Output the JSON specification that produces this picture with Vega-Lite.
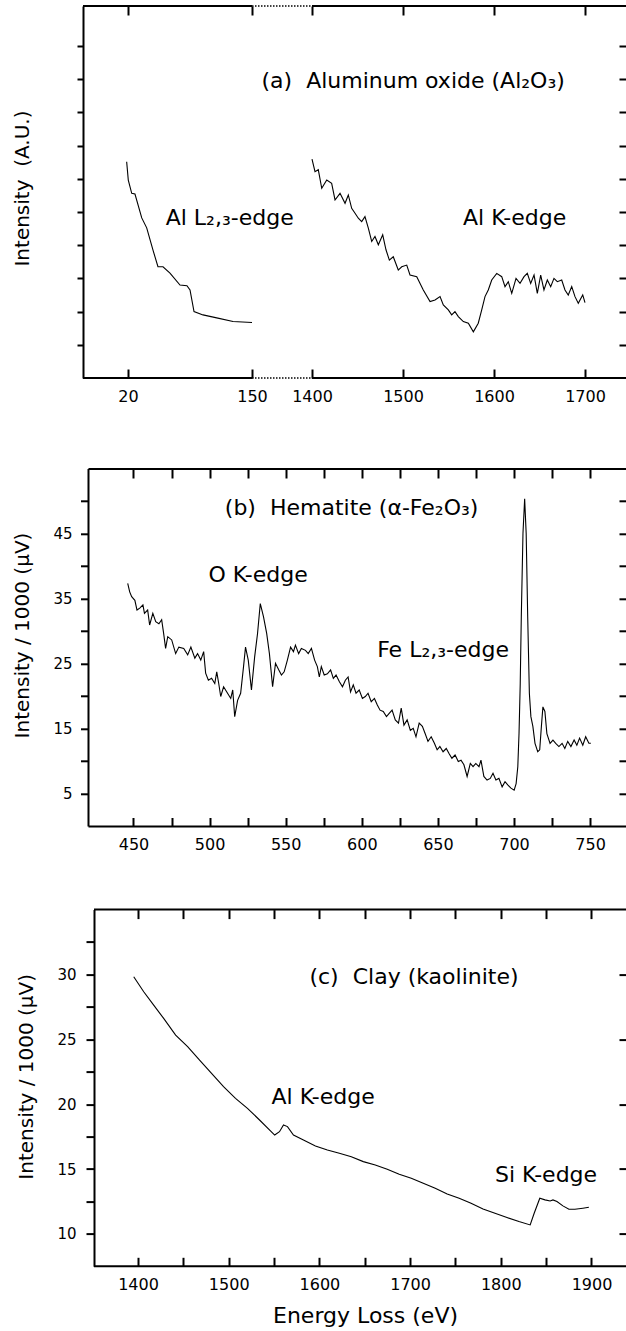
{
  "$schema": "https://vega.github.io/schema/vega-lite/v6.json",
  "background": "white",
  "padding": {"left": 12, "top": 5, "right": 0, "bottom": 0},
  "bounds": "flush",
  "spacing": 82.8,
  "config": {
    "font": "DejaVu Sans",
    "view": {"stroke": null},
    "axis": {
      "grid": false,
      "domainColor": "black",
      "domainWidth": 2,
      "tickColor": "black",
      "tickWidth": 2,
      "labelColor": "black",
      "titleColor": "black",
      "labelFont": "DejaVu Sans",
      "titleFont": "DejaVu Sans",
      "labelFontSize": 16,
      "titleFontSize": 20,
      "titleFontWeight": "normal",
      "labelFlush": false,
      "labelOverlap": false,
      "labelBound": false
    },
    "text": {"font": "DejaVu Sans", "fontSize": 22, "color": "black", "align": "left", "baseline": "middle"}
  },
  "datasets": {
    "aL": [
      {"E": 18.6, "I": 6.51}, {"E": 20.3, "I": 5.96}, {"E": 23.9, "I": 5.56}, {"E": 27.3, "I": 5.54},
      {"E": 34.4, "I": 4.82}, {"E": 39.6, "I": 4.52}, {"E": 46.2, "I": 3.85}, {"E": 51.4, "I": 3.35},
      {"E": 56.7, "I": 3.35}, {"E": 64.0, "I": 3.16}, {"E": 74.5, "I": 2.8}, {"E": 81.8, "I": 2.78},
      {"E": 85.0, "I": 2.65}, {"E": 89.2, "I": 2.0}, {"E": 98.6, "I": 1.9}, {"E": 113.0, "I": 1.81},
      {"E": 130.1, "I": 1.7}, {"E": 150, "I": 1.67}
    ],
    "aR": [
      {"E": 1400, "I": 6.59}, {"E": 1403.3, "I": 6.21}, {"E": 1406.9, "I": 6.27}, {"E": 1410.7, "I": 5.71},
      {"E": 1416.2, "I": 5.96}, {"E": 1421.6, "I": 5.86}, {"E": 1425.3, "I": 5.36}, {"E": 1430.8, "I": 5.56},
      {"E": 1436.3, "I": 5.26}, {"E": 1439.9, "I": 5.51}, {"E": 1443.6, "I": 5.11}, {"E": 1447.3, "I": 4.96},
      {"E": 1450.9, "I": 4.81}, {"E": 1454.6, "I": 4.71}, {"E": 1458.2, "I": 4.86}, {"E": 1461.9, "I": 4.51},
      {"E": 1465.6, "I": 4.11}, {"E": 1469.2, "I": 4.26}, {"E": 1472.9, "I": 4.01}, {"E": 1477.7, "I": 4.31},
      {"E": 1481.3, "I": 3.86}, {"E": 1485.0, "I": 3.55}, {"E": 1489.3, "I": 3.65}, {"E": 1494.8, "I": 3.25},
      {"E": 1498.6, "I": 3.35}, {"E": 1504.1, "I": 3.4}, {"E": 1507.7, "I": 3.1}, {"E": 1515.1, "I": 3.05},
      {"E": 1522.3, "I": 2.65}, {"E": 1529.7, "I": 2.3}, {"E": 1535.2, "I": 2.35}, {"E": 1540.7, "I": 2.45},
      {"E": 1544.3, "I": 2.2}, {"E": 1549.8, "I": 2.05}, {"E": 1553.5, "I": 1.9}, {"E": 1557.1, "I": 2.0},
      {"E": 1560.8, "I": 1.85}, {"E": 1566.3, "I": 1.7}, {"E": 1571.8, "I": 1.65}, {"E": 1577.3, "I": 1.39},
      {"E": 1582.7, "I": 1.65}, {"E": 1586.5, "I": 2.05}, {"E": 1590.1, "I": 2.45}, {"E": 1593.7, "I": 2.65},
      {"E": 1597.5, "I": 2.95}, {"E": 1603.0, "I": 3.15}, {"E": 1608.5, "I": 3.05}, {"E": 1612.1, "I": 2.75},
      {"E": 1615.7, "I": 2.9}, {"E": 1619.5, "I": 2.55}, {"E": 1624.2, "I": 3.0}, {"E": 1628.6, "I": 2.85},
      {"E": 1633.0, "I": 3.05}, {"E": 1636.6, "I": 3.15}, {"E": 1640.3, "I": 2.85}, {"E": 1644.0, "I": 3.1},
      {"E": 1647.6, "I": 2.55}, {"E": 1651.3, "I": 3.1}, {"E": 1654.9, "I": 2.65}, {"E": 1658.6, "I": 2.95},
      {"E": 1662.3, "I": 2.75}, {"E": 1665.9, "I": 3.0}, {"E": 1669.6, "I": 2.9}, {"E": 1674.4, "I": 2.95},
      {"E": 1678.0, "I": 2.65}, {"E": 1681.6, "I": 2.5}, {"E": 1685.4, "I": 2.75}, {"E": 1689.0, "I": 2.45},
      {"E": 1692.6, "I": 2.25}, {"E": 1697.5, "I": 2.5}, {"E": 1700.0, "I": 2.27}
    ],
    "b": [
      {"E": 446.2, "I": 37.3}, {"E": 447.5, "I": 36.0}, {"E": 448.8, "I": 35.25}, {"E": 450.9, "I": 34.7},
      {"E": 452.3, "I": 33.2}, {"E": 454.1, "I": 33.5}, {"E": 456.2, "I": 34.0}, {"E": 457.2, "I": 32.7},
      {"E": 459.3, "I": 33.2}, {"E": 460.6, "I": 30.9}, {"E": 462.7, "I": 32.7}, {"E": 464.6, "I": 31.4},
      {"E": 466.7, "I": 31.1}, {"E": 468.5, "I": 31.7}, {"E": 469.8, "I": 29.6}, {"E": 471.1, "I": 27.3},
      {"E": 472.5, "I": 29.1}, {"E": 475.1, "I": 28.6}, {"E": 477.7, "I": 26.5}, {"E": 479.8, "I": 27.5},
      {"E": 483.0, "I": 27.3}, {"E": 485.6, "I": 26.3}, {"E": 487.7, "I": 27.5}, {"E": 490.3, "I": 25.8},
      {"E": 492.1, "I": 26.5}, {"E": 494.2, "I": 25.5}, {"E": 496.1, "I": 26.8}, {"E": 497.4, "I": 23.5},
      {"E": 499.2, "I": 22.4}, {"E": 501.3, "I": 22.7}, {"E": 503.4, "I": 21.9}, {"E": 504.7, "I": 23.7},
      {"E": 506.0, "I": 21.9}, {"E": 507.3, "I": 19.9}, {"E": 509.2, "I": 21.4}, {"E": 511.8, "I": 20.4},
      {"E": 513.9, "I": 19.6}, {"E": 515.2, "I": 20.9}, {"E": 516.5, "I": 16.8}, {"E": 518.4, "I": 19.3},
      {"E": 520.4, "I": 20.4}, {"E": 522.3, "I": 24.5}, {"E": 523.6, "I": 27.5}, {"E": 525.4, "I": 25.5},
      {"E": 527.5, "I": 20.9}, {"E": 529.6, "I": 26.0}, {"E": 531.5, "I": 29.6}, {"E": 533.3, "I": 34.2},
      {"E": 535.4, "I": 32.2}, {"E": 537.5, "I": 29.6}, {"E": 539.3, "I": 26.5}, {"E": 541.4, "I": 21.4},
      {"E": 543.3, "I": 25.0}, {"E": 545.4, "I": 24.0}, {"E": 547.2, "I": 23.2}, {"E": 549.0, "I": 23.7},
      {"E": 551.1, "I": 25.5}, {"E": 553.2, "I": 27.5}, {"E": 555.1, "I": 26.8}, {"E": 556.4, "I": 27.8},
      {"E": 558.5, "I": 26.5}, {"E": 560.3, "I": 27.3}, {"E": 563.0, "I": 27.0}, {"E": 564.8, "I": 26.5},
      {"E": 566.9, "I": 27.3}, {"E": 569.0, "I": 25.5}, {"E": 570.8, "I": 24.5}, {"E": 572.1, "I": 22.9},
      {"E": 573.4, "I": 24.5}, {"E": 575.3, "I": 23.2}, {"E": 577.4, "I": 23.4}, {"E": 579.5, "I": 24.0},
      {"E": 581.3, "I": 22.7}, {"E": 583.1, "I": 23.2}, {"E": 585.2, "I": 22.2}, {"E": 587.3, "I": 21.4},
      {"E": 589.2, "I": 22.4}, {"E": 591.0, "I": 22.9}, {"E": 592.6, "I": 20.6}, {"E": 594.4, "I": 21.7},
      {"E": 596.2, "I": 20.4}, {"E": 598.3, "I": 20.9}, {"E": 600.4, "I": 19.6}, {"E": 602.3, "I": 19.9},
      {"E": 604.1, "I": 20.4}, {"E": 606.2, "I": 19.1}, {"E": 608.3, "I": 19.6}, {"E": 610.2, "I": 18.6},
      {"E": 612.0, "I": 17.8}, {"E": 614.1, "I": 17.6}, {"E": 616.2, "I": 16.8}, {"E": 618.0, "I": 17.3},
      {"E": 619.9, "I": 17.8}, {"E": 622.0, "I": 16.3}, {"E": 624.1, "I": 15.8}, {"E": 625.9, "I": 18.1},
      {"E": 627.7, "I": 15.5}, {"E": 629.8, "I": 16.3}, {"E": 631.9, "I": 14.7}, {"E": 633.8, "I": 15.0},
      {"E": 635.6, "I": 13.7}, {"E": 637.7, "I": 15.8}, {"E": 639.8, "I": 15.3}, {"E": 641.6, "I": 14.2},
      {"E": 643.5, "I": 13.0}, {"E": 645.6, "I": 13.7}, {"E": 647.7, "I": 12.7}, {"E": 649.5, "I": 11.7},
      {"E": 651.3, "I": 12.2}, {"E": 653.4, "I": 11.4}, {"E": 655.5, "I": 11.9}, {"E": 657.4, "I": 11.1},
      {"E": 659.2, "I": 10.4}, {"E": 661.3, "I": 10.9}, {"E": 663.4, "I": 9.9}, {"E": 665.2, "I": 10.1},
      {"E": 667.1, "I": 9.4}, {"E": 669.2, "I": 7.6}, {"E": 671.3, "I": 9.6}, {"E": 673.1, "I": 9.1},
      {"E": 674.9, "I": 9.6}, {"E": 677.0, "I": 9.1}, {"E": 678.3, "I": 10.1}, {"E": 680.2, "I": 7.6},
      {"E": 682.3, "I": 7.05}, {"E": 684.4, "I": 7.3}, {"E": 686.2, "I": 8.1}, {"E": 688.1, "I": 7.05},
      {"E": 690.1, "I": 7.3}, {"E": 692.2, "I": 6.0}, {"E": 694.1, "I": 6.8}, {"E": 695.9, "I": 6.3},
      {"E": 698.0, "I": 5.8}, {"E": 700.1, "I": 5.5}, {"E": 701.4, "I": 6.5}, {"E": 702.5, "I": 9.1},
      {"E": 703.3, "I": 14.2}, {"E": 704.1, "I": 21.9}, {"E": 704.8, "I": 32.2}, {"E": 705.9, "I": 45.0},
      {"E": 707.0, "I": 50.3}, {"E": 708.0, "I": 45.0}, {"E": 709.0, "I": 32.2}, {"E": 710.1, "I": 20.4},
      {"E": 711.1, "I": 16.8}, {"E": 712.4, "I": 15.3}, {"E": 713.8, "I": 12.7}, {"E": 715.6, "I": 11.4},
      {"E": 716.9, "I": 11.7}, {"E": 718.0, "I": 15.3}, {"E": 719.0, "I": 18.3}, {"E": 720.3, "I": 17.6},
      {"E": 721.6, "I": 14.2}, {"E": 723.7, "I": 12.7}, {"E": 725.6, "I": 13.2}, {"E": 727.4, "I": 12.7},
      {"E": 729.5, "I": 12.2}, {"E": 731.6, "I": 12.7}, {"E": 733.4, "I": 11.9}, {"E": 735.3, "I": 13.0},
      {"E": 737.4, "I": 12.2}, {"E": 739.5, "I": 13.2}, {"E": 741.3, "I": 12.4}, {"E": 743.1, "I": 13.5},
      {"E": 745.2, "I": 12.4}, {"E": 747.1, "I": 13.7}, {"E": 749.2, "I": 12.7}, {"E": 750.5, "I": 12.7}
    ],
    "c": [
      {"E": 1395.3, "I": 29.82}, {"E": 1406.3, "I": 28.67}, {"E": 1417.3, "I": 27.64}, {"E": 1428.3, "I": 26.61},
      {"E": 1441.5, "I": 25.33}, {"E": 1454.7, "I": 24.43}, {"E": 1467.9, "I": 23.4}, {"E": 1481.1, "I": 22.37},
      {"E": 1494.3, "I": 21.35}, {"E": 1507.5, "I": 20.45}, {"E": 1520.7, "I": 19.68}, {"E": 1534.0, "I": 18.78},
      {"E": 1550.7, "I": 17.62}, {"E": 1556.0, "I": 17.88}, {"E": 1560.4, "I": 18.4}, {"E": 1564.8, "I": 18.27},
      {"E": 1571.4, "I": 17.62}, {"E": 1582.4, "I": 17.24}, {"E": 1595.6, "I": 16.78}, {"E": 1608.8, "I": 16.47},
      {"E": 1622.0, "I": 16.21}, {"E": 1635.2, "I": 15.95}, {"E": 1648.4, "I": 15.57}, {"E": 1661.6, "I": 15.31},
      {"E": 1674.8, "I": 14.98}, {"E": 1688.0, "I": 14.59}, {"E": 1701.3, "I": 14.29}, {"E": 1714.5, "I": 13.9},
      {"E": 1727.7, "I": 13.52}, {"E": 1740.9, "I": 13.08}, {"E": 1754.1, "I": 12.75}, {"E": 1767.2, "I": 12.36},
      {"E": 1780.4, "I": 11.92}, {"E": 1793.6, "I": 11.59}, {"E": 1806.8, "I": 11.26}, {"E": 1820.0, "I": 10.95},
      {"E": 1832.4, "I": 10.69}, {"E": 1836.8, "I": 11.59}, {"E": 1843.0, "I": 12.75}, {"E": 1848.7, "I": 12.62},
      {"E": 1854.4, "I": 12.54}, {"E": 1857.5, "I": 12.62}, {"E": 1861.9, "I": 12.49}, {"E": 1868.5, "I": 12.16},
      {"E": 1875.1, "I": 11.9}, {"E": 1881.7, "I": 11.9}, {"E": 1890.5, "I": 11.98}, {"E": 1897.1, "I": 12.05}
    ],
    "tAL": [{"E": 59.5, "I": 4.82, "t": "Al L\u2082,\u2083-edge"}],
    "tAR": [
      {"E": 1344.5, "I": 8.94, "t": "(a)\u00a0 Aluminum oxide (Al\u2082O\u2083)"},
      {"E": 1565.9, "I": 4.82, "t": "Al K-edge"}
    ],
    "tB": [
      {"E": 510.0, "I": 48.85, "t": "(b)\u00a0 Hematite (\u03b1-Fe\u2082O\u2083)"},
      {"E": 499.2, "I": 38.59, "t": "O K-edge"},
      {"E": 610.1, "I": 27.05, "t": "Fe L\u2082,\u2083-edge"}
    ],
    "tC": [
      {"E": 1589.0, "I": 29.8, "t": "(c)\u00a0 Clay (kaolinite)"},
      {"E": 1547.2, "I": 20.55, "t": "Al K-edge"},
      {"E": 1793.6, "I": 14.52, "t": "Si K-edge"}
    ]
  },
  "vconcat": [
    {
      "width": 543,
      "height": 372,
      "resolve": {"scale": {"x": "independent"}, "axis": {"x": "independent", "y": "independent"}},
      "layer": [
        {
          "data": {"name": "aL"},
          "mark": {"type": "line", "color": "black", "strokeWidth": 1.1},
          "encoding": {
            "x": {"field": "E", "type": "quantitative", "scale": {"domain": [-27.17, 542.01], "nice": false, "zero": false},
                  "axis": {"orient": "bottom", "values": [20, 150], "domain": false, "tickSize": -9, "labelPadding": 19, "title": null}},
            "y": {"field": "I", "type": "quantitative", "scale": {"domain": [0, 11.2], "nice": false, "zero": false},
                  "axis": {"orient": "left", "values": [1, 2, 3, 4, 5, 6, 7, 8, 9, 10], "labels": false, "tickSize": 6,
                           "title": "Intensity\u00a0 (A.U.)", "titleX": -51, "titleY": 182}}
          }
        },
        {
          "data": {"values": [{}]},
          "mark": {"type": "rule", "color": "black", "strokeWidth": 2},
          "encoding": {
            "x": {"datum": -27.17, "type": "quantitative", "scale": {"domain": [-27.17, 542.01], "nice": false, "zero": false},
                  "axis": {"orient": "top", "values": [20, 150], "labels": false, "domain": false, "tickSize": -9, "title": null}},
            "x2": {"datum": 150},
            "y": {"datum": 11.2, "type": "quantitative", "scale": {"domain": [0, 11.2], "nice": false, "zero": false}, "axis": null}
          }
        },
        {
          "data": {"values": [{}]},
          "mark": {"type": "rule", "color": "black", "strokeWidth": 2},
          "encoding": {
            "x": {"datum": -27.17, "type": "quantitative", "scale": {"domain": [-27.17, 542.01], "nice": false, "zero": false}, "axis": null},
            "x2": {"datum": 150},
            "y": {"datum": 0, "type": "quantitative", "scale": {"domain": [0, 11.2], "nice": false, "zero": false}, "axis": null}
          }
        },
        {
          "data": {"name": "tAL"},
          "mark": {"type": "text"},
          "encoding": {
            "x": {"field": "E", "type": "quantitative", "scale": {"domain": [-27.17, 542.01], "nice": false, "zero": false}, "axis": null},
            "y": {"field": "I", "type": "quantitative", "scale": {"domain": [0, 11.2], "nice": false, "zero": false}, "axis": null},
            "text": {"field": "t"}
          }
        },
        {
          "data": {"name": "aR"},
          "mark": {"type": "line", "color": "black", "strokeWidth": 1.1},
          "encoding": {
            "x": {"field": "E", "type": "quantitative", "scale": {"domain": [1148.35, 1745.05], "nice": false, "zero": false},
                  "axis": {"orient": "bottom", "values": [1400, 1500, 1600, 1700], "format": "d", "domain": false, "tickSize": -9, "labelPadding": 19, "title": null}},
            "y": {"field": "I", "type": "quantitative", "scale": {"domain": [0, 11.2], "nice": false, "zero": false},
                  "axis": {"orient": "right", "values": [1, 2, 3, 4, 5, 6, 7, 8, 9, 10], "labels": false, "domain": false, "tickSize": -7, "title": null}}
          }
        },
        {
          "data": {"values": [{}]},
          "mark": {"type": "rule", "color": "black", "strokeWidth": 2},
          "encoding": {
            "x": {"datum": 1400, "type": "quantitative", "scale": {"domain": [1148.35, 1745.05], "nice": false, "zero": false},
                  "axis": {"orient": "top", "values": [1400, 1500, 1600, 1700], "labels": false, "domain": false, "tickSize": -9, "title": null}},
            "x2": {"datum": 1745.05},
            "y": {"datum": 11.2, "type": "quantitative", "scale": {"domain": [0, 11.2], "nice": false, "zero": false}, "axis": null}
          }
        },
        {
          "data": {"values": [{}]},
          "mark": {"type": "rule", "color": "black", "strokeWidth": 2},
          "encoding": {
            "x": {"datum": 1400, "type": "quantitative", "scale": {"domain": [1148.35, 1745.05], "nice": false, "zero": false}, "axis": null},
            "x2": {"datum": 1745.05},
            "y": {"datum": 0, "type": "quantitative", "scale": {"domain": [0, 11.2], "nice": false, "zero": false}, "axis": null}
          }
        },
        {
          "data": {"values": [{}]},
          "mark": {"type": "rule", "color": "black", "strokeWidth": 1.5, "strokeDash": [1.5, 1.5]},
          "encoding": {
            "x": {"datum": 1334.07, "type": "quantitative", "scale": {"domain": [1148.35, 1745.05], "nice": false, "zero": false}, "axis": null},
            "x2": {"datum": 1400},
            "y": {"datum": 11.2, "type": "quantitative", "scale": {"domain": [0, 11.2], "nice": false, "zero": false}, "axis": null}
          }
        },
        {
          "data": {"values": [{}]},
          "mark": {"type": "rule", "color": "black", "strokeWidth": 1.5, "strokeDash": [1.5, 1.5]},
          "encoding": {
            "x": {"datum": 1334.07, "type": "quantitative", "scale": {"domain": [1148.35, 1745.05], "nice": false, "zero": false}, "axis": null},
            "x2": {"datum": 1400},
            "y": {"datum": 0, "type": "quantitative", "scale": {"domain": [0, 11.2], "nice": false, "zero": false}, "axis": null}
          }
        },
        {
          "data": {"name": "tAR"},
          "mark": {"type": "text"},
          "encoding": {
            "x": {"field": "E", "type": "quantitative", "scale": {"domain": [1148.35, 1745.05], "nice": false, "zero": false}, "axis": null},
            "y": {"field": "I", "type": "quantitative", "scale": {"domain": [0, 11.2], "nice": false, "zero": false}, "axis": null},
            "text": {"field": "t"}
          }
        }
      ]
    },
    {
      "width": 543,
      "height": 365.7,
      "resolve": {"axis": {"x": "independent", "y": "independent"}},
      "layer": [
        {
          "data": {"name": "b"},
          "mark": {"type": "line", "color": "black", "strokeWidth": 1.1},
          "encoding": {
            "x": {"field": "E", "type": "quantitative", "scale": {"domain": [416.82, 773.59], "nice": false, "zero": false},
                  "axis": {"orient": "bottom", "values": [450, 475, 500, 525, 550, 575, 600, 625, 650, 675, 700, 725, 750],
                           "labelExpr": "datum.value % 50 == 0 ? datum.label : ''",
                           "domain": false, "tickSize": -9, "labelPadding": 19, "title": null}},
            "y": {"field": "I", "type": "quantitative", "scale": {"domain": [-0.1, 56.16], "nice": false, "zero": false},
                  "axis": {"orient": "left", "offset": -5.5, "values": [5, 10, 15, 20, 25, 30, 35, 40, 45, 50],
                           "labelExpr": "datum.value % 10 == 5 ? datum.label : ''", "labelFontSize": 15,
                           "domain": false, "tickSize": 8, "labelPadding": 8.5,
                           "title": "Intensity / 1000 (\u00b5V)", "titleX": -56.5, "titleY": 174.2}}
          }
        },
        {
          "data": {"values": [{}]},
          "mark": {"type": "rule", "color": "black", "strokeWidth": 2},
          "encoding": {
            "x": {"datum": 420.43, "type": "quantitative", "scale": {"domain": [416.82, 773.59], "nice": false, "zero": false},
                  "axis": {"orient": "top", "offset": -8.2, "values": [450, 475, 500, 525, 550, 575, 600, 625, 650, 675, 700, 725, 750],
                           "labels": false, "domain": false, "tickSize": -9, "title": null}},
            "x2": {"datum": 773.59},
            "y": {"datum": 54.9, "type": "quantitative", "scale": {"domain": [-0.1, 56.16], "nice": false, "zero": false},
                  "axis": {"orient": "right", "values": [5, 10, 15, 20, 25, 30, 35, 40, 45, 50], "labels": false, "domain": false, "tickSize": -7, "title": null}}
          }
        },
        {
          "data": {"values": [{}]},
          "mark": {"type": "rule", "color": "black", "strokeWidth": 2},
          "encoding": {
            "x": {"datum": 420.43, "type": "quantitative", "scale": {"domain": [416.82, 773.59], "nice": false, "zero": false}, "axis": null},
            "x2": {"datum": 773.59},
            "y": {"datum": -0.1, "type": "quantitative", "scale": {"domain": [-0.1, 56.16], "nice": false, "zero": false}, "axis": null}
          }
        },
        {
          "data": {"values": [{}]},
          "mark": {"type": "rule", "color": "black", "strokeWidth": 2},
          "encoding": {
            "x": {"datum": 420.43, "type": "quantitative", "scale": {"domain": [416.82, 773.59], "nice": false, "zero": false}, "axis": null},
            "y": {"datum": -0.1, "type": "quantitative", "scale": {"domain": [-0.1, 56.16], "nice": false, "zero": false}, "axis": null},
            "y2": {"datum": 54.9}
          }
        },
        {
          "data": {"name": "tB"},
          "mark": {"type": "text"},
          "encoding": {
            "x": {"field": "E", "type": "quantitative", "scale": {"domain": [416.82, 773.59], "nice": false, "zero": false}, "axis": null},
            "y": {"field": "I", "type": "quantitative", "scale": {"domain": [-0.1, 56.16], "nice": false, "zero": false}, "axis": null},
            "text": {"field": "t"}
          }
        }
      ]
    },
    {
      "width": 543,
      "height": 356.7,
      "resolve": {"axis": {"x": "independent", "y": "independent"}},
      "layer": [
        {
          "data": {"name": "c"},
          "mark": {"type": "line", "color": "black", "strokeWidth": 1.1},
          "encoding": {
            "x": {"field": "E", "type": "quantitative", "scale": {"domain": [1339.36, 1938.04], "nice": false, "zero": false},
                  "axis": {"orient": "bottom", "values": [1400, 1450, 1500, 1550, 1600, 1650, 1700, 1750, 1800, 1850, 1900],
                           "labelExpr": "datum.value % 100 == 0 ? datum.label : ''",
                           "format": "d",
                           "domain": false, "tickSize": -9, "labelPadding": 19,
                           "title": "Energy Loss (eV)", "titleFontSize": 22, "titleX": 282, "titleY": 49, "titleBaseline": "middle"}},
            "y": {"field": "I", "type": "quantitative", "scale": {"domain": [7.5, 35], "nice": false, "zero": false},
                  "axis": {"orient": "left", "offset": -11, "values": [10, 12.5, 15, 17.5, 20, 22.5, 25, 27.5, 30, 32.5],
                           "labelExpr": "datum.value % 5 == 0 ? datum.label : ''", "labelFontSize": 15,
                           "tickSize": 8, "labelPadding": 10,
                           "title": "Intensity / 1000 (\u00b5V)", "titleX": -58, "titleY": 166.7}}
          }
        },
        {
          "data": {"values": [{}]},
          "mark": {"type": "rule", "color": "black", "strokeWidth": 2},
          "encoding": {
            "x": {"datum": 1351.49, "type": "quantitative", "scale": {"domain": [1339.36, 1938.04], "nice": false, "zero": false},
                  "axis": {"orient": "top", "values": [1400, 1450, 1500, 1550, 1600, 1650, 1700, 1750, 1800, 1850, 1900],
                           "labels": false, "domain": false, "tickSize": -9, "title": null}},
            "x2": {"datum": 1938.04},
            "y": {"datum": 35, "type": "quantitative", "scale": {"domain": [7.5, 35], "nice": false, "zero": false},
                  "axis": {"orient": "right", "values": [10, 15, 20, 25, 30], "labels": false, "domain": false, "tickSize": -7, "title": null}}
          }
        },
        {
          "data": {"values": [{}]},
          "mark": {"type": "rule", "color": "black", "strokeWidth": 2},
          "encoding": {
            "x": {"datum": 1351.49, "type": "quantitative", "scale": {"domain": [1339.36, 1938.04], "nice": false, "zero": false}, "axis": null},
            "x2": {"datum": 1938.04},
            "y": {"datum": 7.5, "type": "quantitative", "scale": {"domain": [7.5, 35], "nice": false, "zero": false}, "axis": null}
          }
        },
        {
          "data": {"name": "tC"},
          "mark": {"type": "text"},
          "encoding": {
            "x": {"field": "E", "type": "quantitative", "scale": {"domain": [1339.36, 1938.04], "nice": false, "zero": false}, "axis": null},
            "y": {"field": "I", "type": "quantitative", "scale": {"domain": [7.5, 35], "nice": false, "zero": false}, "axis": null},
            "text": {"field": "t"}
          }
        }
      ]
    }
  ]
}
